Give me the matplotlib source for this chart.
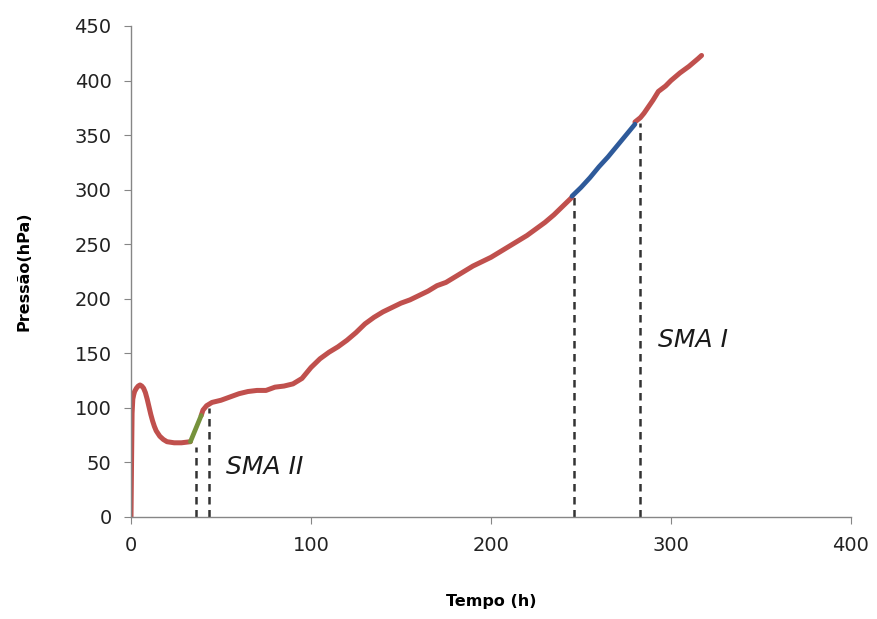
import matplotlib
matplotlib.use("Agg")
import matplotlib.pyplot as plt

# Data
t_red1 = [0, 0.3, 0.6, 1, 1.5, 2, 3, 4, 5, 6, 7, 8, 9, 10, 11, 12, 13, 14, 16, 18, 20, 24, 28, 33]
p_red1 = [0, 50, 95, 108, 112, 115, 118, 120, 121, 120, 118, 114, 108, 101, 94, 88, 83, 79, 74, 71, 69, 68, 68, 69]
t_green = [33, 36, 39]
p_green = [69, 81, 93]
t_red2 = [39, 40, 42, 45, 50, 55, 60, 65, 70, 75, 80, 85, 90, 95, 100, 105, 110, 115, 120,
          125, 130, 135, 140, 145, 150, 155, 160, 165, 170, 175, 180, 185, 190, 195, 200,
          205, 210, 215, 220, 225, 230, 235, 240, 245]
p_red2 = [93, 98, 102, 105, 107, 110, 113, 115, 116, 116, 119, 120, 122, 127, 137, 145, 151, 156, 162,
          169, 177, 183, 188, 192, 196, 199, 203, 207, 212, 215, 220, 225, 230, 234, 238,
          243, 248, 253, 258, 264, 270, 277, 285, 293]
t_blue = [245, 250, 255, 260, 265, 270, 275, 280]
p_blue = [294, 302, 311, 321, 330, 340, 350, 360]
t_red3 = [280, 283, 285, 290, 293, 297, 300, 305, 310, 315, 317]
p_red3 = [362, 366, 370, 382, 390, 395, 400, 407, 413, 420, 423]

dash_x = [36, 43.5, 246, 283]
dash_top = [64, 100, 293, 361]

xticks = [0, 100, 200, 300, 400]
yticks = [0, 50, 100, 150, 200, 250, 300, 350, 400, 450]

red = '#C0504D'
green = '#76923C'
blue = '#2E5A9A'

fig = plt.figure(figsize=(8.78, 6.19), dpi=100)
ax = fig.add_axes([0.1492, 0.1648, 0.8200, 0.7932])

for x, top in zip(dash_x, dash_top):
    ax.plot([x, x], [0, top], color='#333333', lw=1.8, ls=(0, (3, 2.2)), zorder=1)

ax.plot(t_red1, p_red1, color=red, lw=3.6, solid_capstyle='round', zorder=2)
ax.plot(t_red2, p_red2, color=red, lw=3.6, solid_capstyle='round', zorder=2)
ax.plot(t_red3, p_red3, color=red, lw=3.6, solid_capstyle='round', zorder=2)
ax.plot(t_green, p_green, color=green, lw=3.4, solid_capstyle='round', zorder=3)
ax.plot(t_blue, p_blue, color=blue, lw=3.4, solid_capstyle='round', zorder=3)

ax.text(74, 46, 'SMA II', fontsize=18, style='italic', ha='center', va='center', color='#1a1a1a')
ax.text(312, 162, 'SMA I', fontsize=18, style='italic', ha='center', va='center', color='#1a1a1a')

ax.set_xlim(0, 400)
ax.set_ylim(0, 450)
ax.set_xticks(xticks)
ax.set_yticks(yticks)
for s in ['top', 'right']:
    ax.spines[s].set_visible(False)
for s in ['left', 'bottom']:
    ax.spines[s].set_color('#868686')
    ax.spines[s].set_linewidth(1.0)
ax.tick_params(axis='both', direction='out', length=5, color='#868686', labelsize=14, labelcolor='#222222')
ax.tick_params(axis='y', pad=9)
ax.tick_params(axis='x', pad=9)

ax.set_xlabel('Tempo (h)', fontsize=11.5, fontweight='bold', labelpad=28)
ax.set_ylabel('Pressão(hPa)', fontsize=11.5, fontweight='bold', labelpad=31)

fig.savefig('out.png', dpi=100)
